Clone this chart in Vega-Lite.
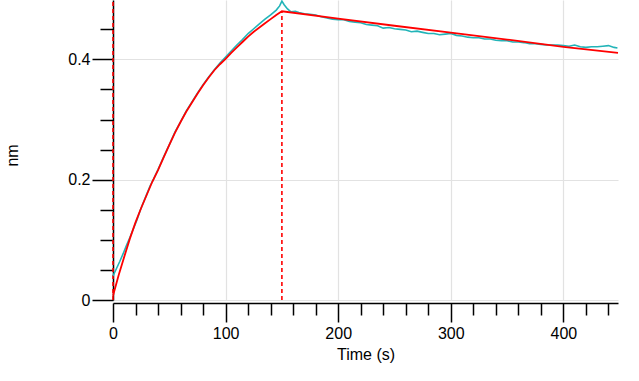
{
  "$schema": "https://vega.github.io/schema/vega-lite/v6.json",
  "width": 505,
  "height": 300,
  "autosize": {"type": "none"},
  "padding": {"left": 113, "top": 0, "right": 21, "bottom": 81},
  "background": "white",
  "config": {
    "view": {"stroke": null},
    "font": "Liberation Sans",
    "axis": {
      "zindex": 0,
      "domainColor": "#000000",
      "domainWidth": 1.5,
      "tickColor": "#000000",
      "tickWidth": 1.5,
      "labelColor": "#000000",
      "labelFont": "Liberation Sans",
      "labelFontSize": 16,
      "titleFont": "Liberation Sans",
      "titleFontSize": 16,
      "titleFontWeight": "normal",
      "titleColor": "#000000",
      "gridColor": "#e2e2e2",
      "gridWidth": 1.2
    }
  },
  "datasets": {
    "curves": [
      {"t": 0, "y": 0.040, "s": "data"},
      {"t": 3, "y": 0.052, "s": "data"},
      {"t": 6, "y": 0.064, "s": "data"},
      {"t": 9, "y": 0.077, "s": "data"},
      {"t": 12, "y": 0.091, "s": "data"},
      {"t": 15, "y": 0.104, "s": "data"},
      {"t": 18, "y": 0.118, "s": "data"},
      {"t": 21, "y": 0.132, "s": "data"},
      {"t": 24, "y": 0.148, "s": "data"},
      {"t": 27, "y": 0.162, "s": "data"},
      {"t": 30, "y": 0.176, "s": "data"},
      {"t": 33, "y": 0.190, "s": "data"},
      {"t": 36, "y": 0.201, "s": "data"},
      {"t": 40, "y": 0.217, "s": "data"},
      {"t": 45, "y": 0.238, "s": "data"},
      {"t": 50, "y": 0.258, "s": "data"},
      {"t": 55, "y": 0.279, "s": "data"},
      {"t": 60, "y": 0.296, "s": "data"},
      {"t": 65, "y": 0.314, "s": "data"},
      {"t": 70, "y": 0.329, "s": "data"},
      {"t": 75, "y": 0.344, "s": "data"},
      {"t": 80, "y": 0.358, "s": "data"},
      {"t": 85, "y": 0.371, "s": "data"},
      {"t": 90, "y": 0.383, "s": "data"},
      {"t": 95, "y": 0.394, "s": "data"},
      {"t": 100, "y": 0.404, "s": "data"},
      {"t": 105, "y": 0.414, "s": "data"},
      {"t": 110, "y": 0.424, "s": "data"},
      {"t": 115, "y": 0.433, "s": "data"},
      {"t": 120, "y": 0.443, "s": "data"},
      {"t": 125, "y": 0.451, "s": "data"},
      {"t": 130, "y": 0.459, "s": "data"},
      {"t": 135, "y": 0.467, "s": "data"},
      {"t": 140, "y": 0.474, "s": "data"},
      {"t": 145, "y": 0.482, "s": "data"},
      {"t": 148, "y": 0.489, "s": "data"},
      {"t": 150, "y": 0.497, "s": "data"},
      {"t": 152, "y": 0.491, "s": "data"},
      {"t": 155, "y": 0.484, "s": "data"},
      {"t": 158, "y": 0.479, "s": "data"},
      {"t": 162, "y": 0.480, "s": "data"},
      {"t": 165, "y": 0.478, "s": "data"},
      {"t": 170, "y": 0.476, "s": "data"},
      {"t": 175, "y": 0.475, "s": "data"},
      {"t": 180, "y": 0.474, "s": "data"},
      {"t": 185, "y": 0.471, "s": "data"},
      {"t": 190, "y": 0.469, "s": "data"},
      {"t": 195, "y": 0.467, "s": "data"},
      {"t": 200, "y": 0.466, "s": "data"},
      {"t": 205, "y": 0.466, "s": "data"},
      {"t": 210, "y": 0.463, "s": "data"},
      {"t": 215, "y": 0.462, "s": "data"},
      {"t": 220, "y": 0.461, "s": "data"},
      {"t": 225, "y": 0.458, "s": "data"},
      {"t": 230, "y": 0.457, "s": "data"},
      {"t": 235, "y": 0.456, "s": "data"},
      {"t": 240, "y": 0.452, "s": "data"},
      {"t": 245, "y": 0.453, "s": "data"},
      {"t": 250, "y": 0.451, "s": "data"},
      {"t": 255, "y": 0.450, "s": "data"},
      {"t": 260, "y": 0.449, "s": "data"},
      {"t": 265, "y": 0.446, "s": "data"},
      {"t": 270, "y": 0.447, "s": "data"},
      {"t": 275, "y": 0.445, "s": "data"},
      {"t": 280, "y": 0.443, "s": "data"},
      {"t": 285, "y": 0.443, "s": "data"},
      {"t": 290, "y": 0.441, "s": "data"},
      {"t": 295, "y": 0.442, "s": "data"},
      {"t": 300, "y": 0.443, "s": "data"},
      {"t": 305, "y": 0.440, "s": "data"},
      {"t": 310, "y": 0.439, "s": "data"},
      {"t": 315, "y": 0.437, "s": "data"},
      {"t": 320, "y": 0.436, "s": "data"},
      {"t": 325, "y": 0.436, "s": "data"},
      {"t": 330, "y": 0.434, "s": "data"},
      {"t": 335, "y": 0.434, "s": "data"},
      {"t": 340, "y": 0.432, "s": "data"},
      {"t": 345, "y": 0.431, "s": "data"},
      {"t": 350, "y": 0.431, "s": "data"},
      {"t": 355, "y": 0.429, "s": "data"},
      {"t": 360, "y": 0.429, "s": "data"},
      {"t": 365, "y": 0.428, "s": "data"},
      {"t": 370, "y": 0.426, "s": "data"},
      {"t": 375, "y": 0.426, "s": "data"},
      {"t": 380, "y": 0.425, "s": "data"},
      {"t": 385, "y": 0.424, "s": "data"},
      {"t": 390, "y": 0.424, "s": "data"},
      {"t": 395, "y": 0.424, "s": "data"},
      {"t": 400, "y": 0.423, "s": "data"},
      {"t": 405, "y": 0.422, "s": "data"},
      {"t": 410, "y": 0.424, "s": "data"},
      {"t": 415, "y": 0.421, "s": "data"},
      {"t": 420, "y": 0.420, "s": "data"},
      {"t": 425, "y": 0.421, "s": "data"},
      {"t": 430, "y": 0.421, "s": "data"},
      {"t": 435, "y": 0.422, "s": "data"},
      {"t": 440, "y": 0.423, "s": "data"},
      {"t": 445, "y": 0.420, "s": "data"},
      {"t": 448, "y": 0.419, "s": "data"},
      {"t": 0, "y": 0.007, "s": "fit"},
      {"t": 5, "y": 0.041, "s": "fit"},
      {"t": 10, "y": 0.072, "s": "fit"},
      {"t": 15, "y": 0.102, "s": "fit"},
      {"t": 20, "y": 0.129, "s": "fit"},
      {"t": 25, "y": 0.153, "s": "fit"},
      {"t": 30, "y": 0.175, "s": "fit"},
      {"t": 35, "y": 0.197, "s": "fit"},
      {"t": 40, "y": 0.216, "s": "fit"},
      {"t": 45, "y": 0.237, "s": "fit"},
      {"t": 50, "y": 0.258, "s": "fit"},
      {"t": 55, "y": 0.278, "s": "fit"},
      {"t": 60, "y": 0.296, "s": "fit"},
      {"t": 65, "y": 0.313, "s": "fit"},
      {"t": 70, "y": 0.328, "s": "fit"},
      {"t": 75, "y": 0.343, "s": "fit"},
      {"t": 80, "y": 0.357, "s": "fit"},
      {"t": 85, "y": 0.370, "s": "fit"},
      {"t": 90, "y": 0.382, "s": "fit"},
      {"t": 95, "y": 0.392, "s": "fit"},
      {"t": 100, "y": 0.401, "s": "fit"},
      {"t": 105, "y": 0.411, "s": "fit"},
      {"t": 110, "y": 0.420, "s": "fit"},
      {"t": 115, "y": 0.429, "s": "fit"},
      {"t": 120, "y": 0.438, "s": "fit"},
      {"t": 125, "y": 0.446, "s": "fit"},
      {"t": 130, "y": 0.453, "s": "fit"},
      {"t": 135, "y": 0.460, "s": "fit"},
      {"t": 140, "y": 0.467, "s": "fit"},
      {"t": 145, "y": 0.474, "s": "fit"},
      {"t": 150, "y": 0.480, "s": "fit"},
      {"t": 200, "y": 0.468, "s": "fit"},
      {"t": 250, "y": 0.456, "s": "fit"},
      {"t": 300, "y": 0.4445, "s": "fit"},
      {"t": 350, "y": 0.433, "s": "fit"},
      {"t": 400, "y": 0.421, "s": "fit"},
      {"t": 448.5, "y": 0.411, "s": "fit"}
    ],
    "markers": [
      {"t": 0, "y": 0, "ytop": 0.4988},
      {"t": 150, "y": 0, "ytop": 0.48}
    ]
  },
  "encoding": {
    "x": {
      "field": "t",
      "type": "quantitative",
      "scale": {"domain": [0, 448.5], "nice": false, "zero": false},
      "axis": {
        "title": "Time (s)",
        "values": [0, 20, 40, 60, 80, 100, 120, 140, 160, 180, 200, 220, 240, 260, 280, 300, 320, 340, 360, 380, 400, 420, 440],
        "format": "d",
        "labelExpr": "datum.value % 100 === 0 ? datum.label : ''",
        "tickSize": {"condition": {"test": "datum.value % 100 === 0", "value": 19}, "value": 12},
        "gridOpacity": {"condition": {"test": "datum.value % 100 === 0", "value": 1}, "value": 0},
        "offset": 3,
        "labelPadding": 3,
        "titlePadding": 5,
        "labelFlush": false,
        "labelOverlap": false
      }
    },
    "y": {
      "field": "y",
      "type": "quantitative",
      "scale": {"domain": [0, 0.4988], "nice": false, "zero": false},
      "axis": {
        "title": "nm",
        "values": [0, 0.05, 0.1, 0.15, 0.2, 0.25, 0.3, 0.35, 0.4, 0.45],
        "format": ".1~f",
        "labelExpr": "round(datum.value * 100) % 20 === 0 ? datum.label : ''",
        "tickSize": {"condition": {"test": "round(datum.value * 100) % 20 === 0", "value": 21}, "value": 13},
        "gridOpacity": {"condition": {"test": "round(datum.value * 100) % 20 === 0", "value": 1}, "value": 0},
        "labelPadding": 2,
        "titleAngle": -90,
        "titleX": -101,
        "titleY": 155,
        "titleAlign": "center",
        "titleBaseline": "middle",
        "labelFlush": false,
        "labelOverlap": false
      }
    }
  },
  "layer": [
    {
      "data": {"name": "markers"},
      "mark": {"type": "rule", "color": "#ff0000", "strokeWidth": 1.6, "strokeDash": [4, 3]},
      "encoding": {"y2": {"field": "ytop"}}
    },
    {
      "data": {"name": "curves"},
      "transform": [{"filter": "datum.s === 'data'"}],
      "mark": {"type": "line", "color": "#22b4b8", "strokeWidth": 1.6}
    },
    {
      "data": {"name": "curves"},
      "transform": [{"filter": "datum.s === 'fit'"}],
      "mark": {"type": "line", "color": "#ff0000", "strokeWidth": 1.8}
    }
  ]
}
